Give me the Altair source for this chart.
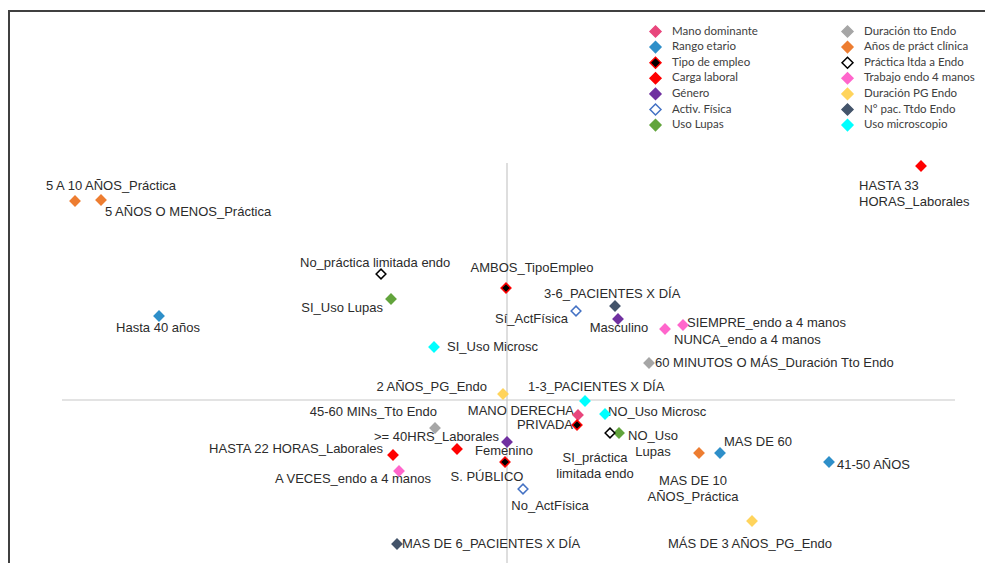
import altair as alt
import pandas as pd

# ---- data (Dim 1 / Dim 2 coordinates) ----
names = [
    "MANO DERECHA", "Hasta 40 años", "MAS DE 60", "41-50 AÑOS",
    "AMBOS_TipoEmpleo", "PRIVADA", "S. PÚBLICO",
    "HASTA 33\nHORAS_Laborales", "HASTA 22 HORAS_Laborales", ">= 40HRS_Laborales",
    "Masculino", "Femenino", "Sí_ActFísica", "No_ActFísica",
    "SI_Uso Lupas", "NO_Uso\nLupas",
    "60 MINUTOS O MÁS_Duración Tto Endo", "45-60 MINs_Tto Endo",
    "5 A 10 AÑOS_Práctica", "5 AÑOS O MENOS_Práctica", "MAS DE 10\nAÑOS_Práctica",
    "No_práctica limitada endo", "SI_práctica\nlimitada endo",
    "SIEMPRE_endo a 4 manos", "NUNCA_endo a 4 manos", "A VECES_endo a 4 manos",
    "2 AÑOS_PG_Endo", "MÁS DE 3 AÑOS_PG_Endo",
    "3-6_PACIENTES X DÍA", "MAS DE 6_PACIENTES X DÍA", "1-3_PACIENTES X DÍA",
    "SI_Uso Microsc", "NO_Uso Microsc",
]
groups = [
    "Mano dominante", "Rango etario", "Rango etario", "Rango etario",
    "Tipo de empleo", "Tipo de empleo", "Tipo de empleo",
    "Carga laboral", "Carga laboral", "Carga laboral",
    "Género", "Género", "Activ. Física", "Activ. Física",
    "Uso Lupas", "Uso Lupas",
    "Duración tto Endo", "Duración tto Endo",
    "Años de práct clínica", "Años de práct clínica", "Años de práct clínica",
    "Práctica ltda a Endo", "Práctica ltda a Endo",
    "Trabajo endo 4 manos", "Trabajo endo 4 manos", "Trabajo endo 4 manos",
    "Duración PG Endo", "Duración PG Endo",
    "N° pac. Ttdo Endo", "N° pac. Ttdo Endo", "Uso microscopio",
    "Uso microscopio", "Uso microscopio",
]
dim1 = [0.71, -3.48, 2.13, 3.22, -0.01, 0.70, -0.02, 4.14, -1.14, -0.50,
        1.11, 0.00, 0.69, 0.16, -1.16, 1.12, 1.42, -0.72, -4.32, -4.06, 1.92,
        -1.26, 1.03, 1.76, 1.58, -1.08, -0.04, 2.45, 1.08, -1.10, 0.78,
        -0.73, 0.98]
dim2 = [-0.15, 0.84, -0.53, -0.62, 1.12, -0.25, -0.62, 2.34, -0.55, -0.49,
        0.81, -0.42, 0.89, -0.89, 1.01, -0.33, 0.37, -0.28, 1.99, 2.00, -0.53,
        1.26, -0.33, 0.75, 0.71, -0.71, 0.06, -1.21, 0.94, -1.44, -0.01,
        0.53, -0.14]
label_x = [0.67, -3.49, 2.17, 3.30, 0.25, 0.66, -0.20, 3.52, -1.24, -1.33,
           1.12, -0.03, 0.61, 0.43, -1.24, 1.46, 1.48, -0.70, -4.61, -4.02, 1.86,
           -2.07, 0.88, 1.80, 1.67, -1.54, -0.20, 2.43, 0.37, -1.05, 0.21,
           -0.60, 1.01]
label_y = [-0.11, 0.72, -0.42, -0.65, 1.32, -0.25, -0.77, 2.14, -0.49, -0.37,
           0.72, -0.51, 0.81, -1.06, 0.92, -0.36, 0.37, -0.12, 2.14, 1.88, -0.81,
           1.37, -0.58, 0.77, 0.60, -0.79, 0.13, -1.44, 1.06, -1.44, 0.13,
           0.53, -0.12]
label_align = ["right", "center", "left", "left", "center", "right", "center",
               "left", "right", "left", "center", "center", "right", "center",
               "right", "center", "left", "right", "left", "left", "center",
               "left", "center", "left", "left", "center", "right", "center",
               "left", "left", "left", "left", "left"]

# legend order (column-major, 2 columns)
legend_groups = [
    "Mano dominante", "Rango etario", "Tipo de empleo", "Carga laboral",
    "Género", "Activ. Física", "Uso Lupas",
    "Duración tto Endo", "Años de práct clínica", "Práctica ltda a Endo",
    "Trabajo endo 4 manos", "Duración PG Endo", "N° pac. Ttdo Endo",
    "Uso microscopio",
]
fill_colors = [
    "#E8467C", "#2E8FC9", "#000000", "#FF0000",
    "#7030A0", "#FFFFFF", "#62A43C",
    "#A6A6A6", "#ED7D31", "#FFFFFF",
    "#FF66CC", "#FFD45C", "#44546A",
    "#00FFFF",
]
stroke_colors = [
    "#E8467C", "#2E8FC9", "#FF0000", "#FF0000",
    "#7030A0", "#4472C4", "#62A43C",
    "#A6A6A6", "#ED7D31", "#000000",
    "#FF66CC", "#FFD45C", "#44546A",
    "#00FFFF",
]

# reference axes (crosshair) extents
axis_x_extent = [-4.45, 4.48]
axis_y_extent = [-1.63, 2.37]

df = pd.DataFrame({
    "name": names, "group": groups, "d1": dim1, "d2": dim2,
    "lx": label_x, "ly": label_y, "align": label_align,
})

xdom = [-4.99, 4.80]
ydom = [-1.63, 3.92]
xs = alt.Scale(domain=xdom, nice=False, zero=False)
ys = alt.Scale(domain=ydom, nice=False, zero=False)

legend = alt.Legend(
    title=None, orient="none", legendX=641, legendY=17, columns=2,
    symbolType="diamond", symbolSize=120, symbolStrokeWidth=1.5,
    labelFont="Lato", labelFontSize=11.5, labelColor="#404040",
    rowPadding=-1.4, columnPadding=81, labelOffset=10, padding=0,
)

hline = alt.Chart(pd.DataFrame({"x": [axis_x_extent[0]], "x2": [axis_x_extent[1]], "y": [0.0]})).mark_rule(
    color="#C8C8C8", strokeWidth=1.2
).encode(
    x=alt.X("x:Q", scale=xs, axis=None), x2="x2:Q", y=alt.Y("y:Q", scale=ys, axis=None)
)
vline = alt.Chart(pd.DataFrame({"x": [0.0], "y": [axis_y_extent[0]], "y2": [axis_y_extent[1]]})).mark_rule(
    color="#C8C8C8", strokeWidth=1.2
).encode(
    x=alt.X("x:Q", scale=xs, axis=None), y=alt.Y("y:Q", scale=ys, axis=None), y2="y2:Q"
)

base = alt.Chart(df)
texts = []
for a in ["left", "right", "center"]:
    texts.append(
        base.transform_filter(alt.datum.align == a).mark_text(
            align=a, baseline="middle", font="Liberation Sans", fontSize=13,
            color="#2B2B2B", lineBreak="\n", lineHeight=15.5,
        ).encode(
            x=alt.X("lx:Q", scale=xs, axis=None),
            y=alt.Y("ly:Q", scale=ys, axis=None),
            text="name:N",
        )
    )

points = base.mark_point(shape="diamond", filled=False, size=95, strokeWidth=1.5, opacity=1).encode(
    x=alt.X("d1:Q", scale=xs, axis=None),
    y=alt.Y("d2:Q", scale=ys, axis=None),
    fill=alt.Fill("group:N", scale=alt.Scale(domain=legend_groups, range=fill_colors), legend=legend),
    stroke=alt.Stroke("group:N", scale=alt.Scale(domain=legend_groups, range=stroke_colors), legend=legend),
)

border_top = alt.Chart(pd.DataFrame({"k": [0]})).mark_rule(color="#404040", strokeWidth=2).encode(
    x=alt.value(0), x2=alt.value(977), y=alt.value(3)
)
border_left = alt.Chart(pd.DataFrame({"k": [0]})).mark_rule(color="#404040", strokeWidth=2).encode(
    x=alt.value(1), y=alt.value(2), y2=alt.value(560)
)

chart = alt.layer(
    hline, vline, *texts, points, border_top, border_left
).properties(
    width=979, height=555, padding=0, autosize=alt.AutoSizeParams(type="none"),
    background="white",
).configure_view(stroke=None)

chart.save("out.html", embed_options={"renderer": "svg", "actions": False})
